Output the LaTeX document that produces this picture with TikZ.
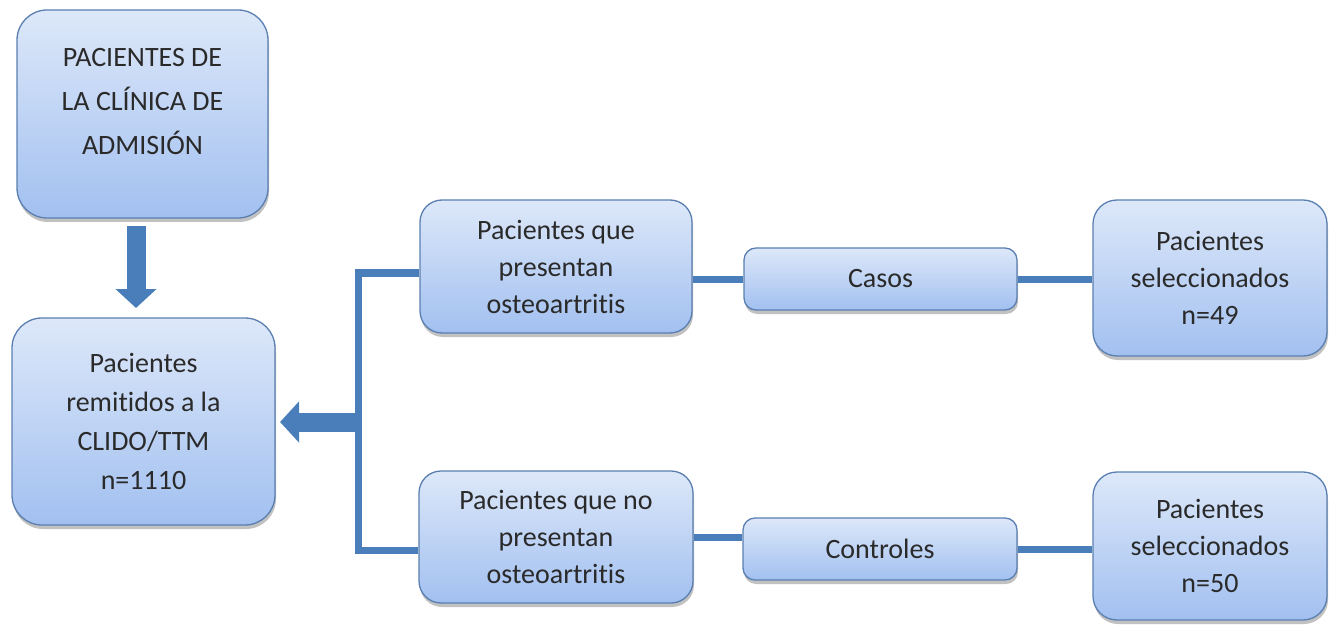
\documentclass[tikz,border=0pt]{standalone}
\usepackage{fontspec}
\setmainfont{Carlito}[Ligatures=NoCommon]
\usetikzlibrary{shadows,arrows.meta}
\definecolor{lineblue}{HTML}{4A7EBB}
\definecolor{boxborder}{HTML}{5A7FB0}
\definecolor{boxtop}{HTML}{DDE8F9}
\definecolor{boxbot}{HTML}{A2C0F0}
\definecolor{txt}{HTML}{2A2A2A}
\begin{document}
\begin{tikzpicture}[x=1pt,y=-1pt,
 box/.style={draw=boxborder, line width=1.3pt, rounded corners=26pt, top color=boxtop, bottom color=boxbot,
   drop shadow={opacity=0.35, shadow xshift=1pt, shadow yshift=-4pt, fill=black!70},
   align=center, inner sep=0pt, text=txt, font=\fontsize{28}{37}\selectfont},
 conn/.style={draw=lineblue, line width=7pt},
 fat/.style={draw=lineblue, line width=19pt, -{Triangle[width=40pt,length=19pt]}}]
\useasboundingbox (0,0) rectangle (1335,628);

\node[box, minimum width=251pt, minimum height=208pt, rounded corners=30pt, font=\fontsize{28}{44}\selectfont] (adm) at (142.5,114)
  {PACIENTES DE\\LA CLÍNICA DE\\ADMISIÓN\\[-18pt]\mbox{}};
\node[box, minimum width=263pt, minimum height=207pt, rounded corners=30pt, font=\fontsize{28}{39}\selectfont] (rem) at (143.5,421.5)
  {Pacientes\\remitidos a la\\CLIDO/TTM\\n=1110};
\node[box, minimum width=272pt, minimum height=133pt, rounded corners=22pt] (pos) at (556,266.5)
  {Pacientes que\\presentan\\osteoartritis};
\node[box, minimum width=273pt, minimum height=62pt, rounded corners=12pt] (casos) at (880.5,279) {Casos};
\node[box, minimum width=234pt, minimum height=156pt, rounded corners=24pt] (sel1) at (1210,278)
  {Pacientes\\seleccionados\\n=49};
\node[box, minimum width=274pt, minimum height=132pt, rounded corners=22pt] (neg) at (556,537)
  {Pacientes que no\\presentan\\osteoartritis};
\node[box, minimum width=274pt, minimum height=62pt, rounded corners=12pt] (ctrl) at (880,549) {Controles};
\node[box, minimum width=234pt, minimum height=148pt, rounded corners=24pt] (sel2) at (1210,546)
  {Pacientes\\seleccionados\\n=50};

% connectors
\coordinate (bt) at (358,273);
\coordinate (bb) at (358,550);
\draw[conn] (pos.west |- bt) -- (bt) -- (bb) -- (neg.west |- bb);
\draw[conn] (casos.west) -- (casos.west -| pos.east);
\draw[conn] (casos.east) -- (casos.east -| sel1.west);
\draw[conn] (neg.east) -- (neg.east -| ctrl.west);
\draw[conn] (ctrl.east) -- (ctrl.east -| sel2.west);

% block arrows
\coordinate (atip) at (280,422);
\draw[fat] (atip -| bt) -- (atip);
\coordinate (dtop) at (136,226);
\coordinate (dtip) at (136,308);
\draw[fat] (dtop) -- (dtip);
\end{tikzpicture}
\end{document}
